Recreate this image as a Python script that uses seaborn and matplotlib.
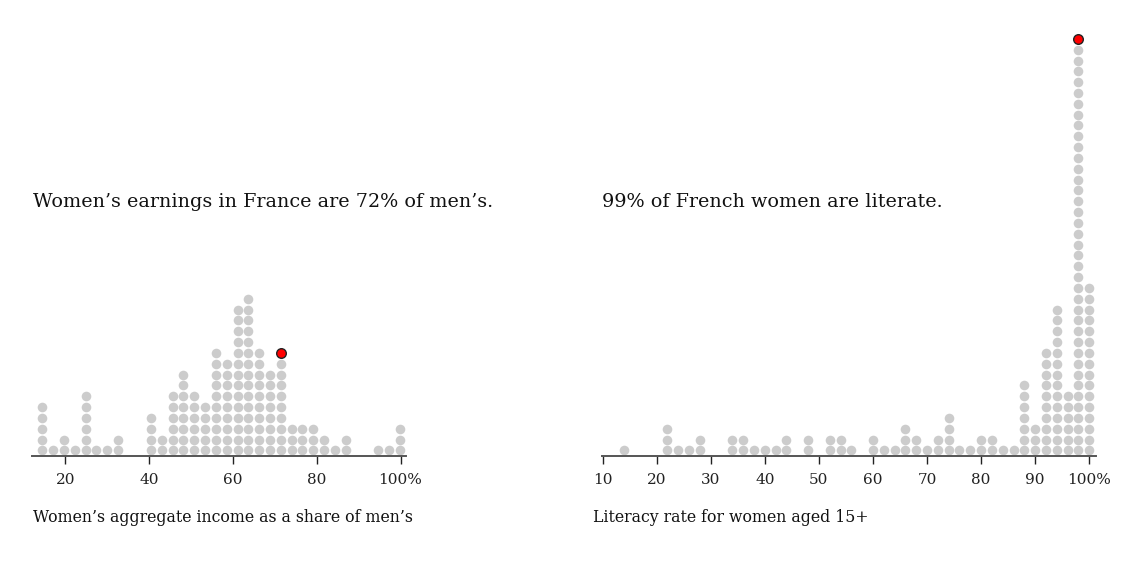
import pandas as pd
import numpy as np
import seaborn as sns
import matplotlib.pyplot as plt

# left panel: women's aggregate income as a share of men's (bin centre -> number of countries)
income_bins = [14.5, 17.1, 19.7, 22.3, 24.9, 27.4, 30.0, 32.6, 40.4, 43.0,
               45.6, 48.1, 50.7, 53.3, 55.9, 58.5, 61.1, 63.7, 66.2, 68.8,
               71.4, 74.0, 76.6, 79.2, 81.8, 84.4, 86.9, 94.7, 97.3, 99.9]
income_counts = [5, 1, 2, 1, 6, 1, 1, 2, 4, 2,
                 6, 8, 6, 5, 10, 9, 14, 15, 10, 8,
                 9, 3, 3, 3, 2, 1, 2, 1, 1, 3]
france_income = 71.4
income_ticks = [20, 40, 60, 80, 100]
income_ticklabels = ['20', '40', '60', '80', '100%']

# right panel: literacy rate for women aged 15+
literacy_bins = [14, 22, 24, 26, 28, 34, 36, 38, 40, 42, 44, 48, 52, 54, 56,
                 60, 62, 64, 66, 68, 70, 72, 74, 76, 78, 80, 82, 84, 86, 88,
                 90, 92, 94, 96, 98, 100]
literacy_counts = [1, 3, 1, 1, 2, 2, 2, 1, 1, 1, 2, 2, 2, 2, 1,
                   2, 1, 1, 3, 2, 1, 2, 4, 1, 1, 2, 2, 1, 1, 7,
                   3, 10, 14, 6, 38, 16]
france_literacy = 98
literacy_ticks = [10, 20, 30, 40, 50, 60, 70, 80, 90, 100]
literacy_ticklabels = ['10', '20', '30', '40', '50', '60', '70', '80', '90', '100%']


def stack(bins, counts):
    # one row per dot, stacked upwards in each bin
    rows = []
    for b, c in zip(bins, counts):
        for i in range(c):
            rows.append((b, i))
    return pd.DataFrame(rows, columns=['value', 'row'])


sns.set_theme(style='white')
plt.rcParams['font.family'] = ['DejaVu Serif', 'DejaVu Sans']

W, H = 1137, 565
fig = plt.figure(figsize=(W / 100, H / 100), dpi=100)

ax_bottom = (H - 455.7) / H
ax_height = (455.7 - 30) / H
ylim = (-0.49, -0.49 + 425.7 / 10.83)

panels = [
    dict(left=32.3, right=406, xlim=(12.12, 101.3), bins=income_bins, counts=income_counts,
         france=france_income, ticks=income_ticks, ticklabels=income_ticklabels,
         title="Women\u2019s earnings in France are 72% of men\u2019s.", tx=33,
         label="Women\u2019s aggregate income as a share of men\u2019s", lx=33),
    dict(left=602, right=1096, xlim=(9.9, 101.24), bins=literacy_bins, counts=literacy_counts,
         france=france_literacy, ticks=literacy_ticks, ticklabels=literacy_ticklabels,
         title="99% of French women are literate.", tx=602,
         label="Literacy rate for women aged 15+", lx=593),
]

for p in panels:
    ax = fig.add_axes([p['left'] / W, ax_bottom, (p['right'] - p['left']) / W, ax_height])
    df = stack(p['bins'], p['counts'])
    sns.scatterplot(data=df, x='value', y='row', color='#cccccc', s=48, linewidth=0,
                    ax=ax, clip_on=False, legend=False)
    top = p['counts'][p['bins'].index(p['france'])]
    ax.scatter([p['france']], [top], s=48, color='#ff0000', edgecolor='#222222',
               linewidth=1.0, clip_on=False, zorder=5)
    ax.set_xlim(*p['xlim'])
    ax.set_ylim(*ylim)
    ax.set_xticks(p['ticks'])
    ax.set_xticklabels(p['ticklabels'])
    ax.set_yticks([])
    ax.set_xlabel('')
    ax.set_ylabel('')
    for s in ['top', 'left', 'right']:
        ax.spines[s].set_visible(False)
    ax.spines['bottom'].set_color('#555555')
    ax.spines['bottom'].set_linewidth(1.4)
    ax.tick_params(axis='x', bottom=True, length=6, width=1, color='#222222',
                   labelsize=11, labelcolor='#222222', pad=6.5)
    ax.set_facecolor('none')
    fig.text(p['tx'] / W, (H - 206.7) / H, p['title'], fontsize=13.8,
             color='#111111', va='baseline', ha='left')
    fig.text(p['lx'] / W, (H - 522.5) / H, p['label'], fontsize=11.3,
             color='#111111', va='baseline', ha='left')

fig.savefig('out.png', dpi=100)
